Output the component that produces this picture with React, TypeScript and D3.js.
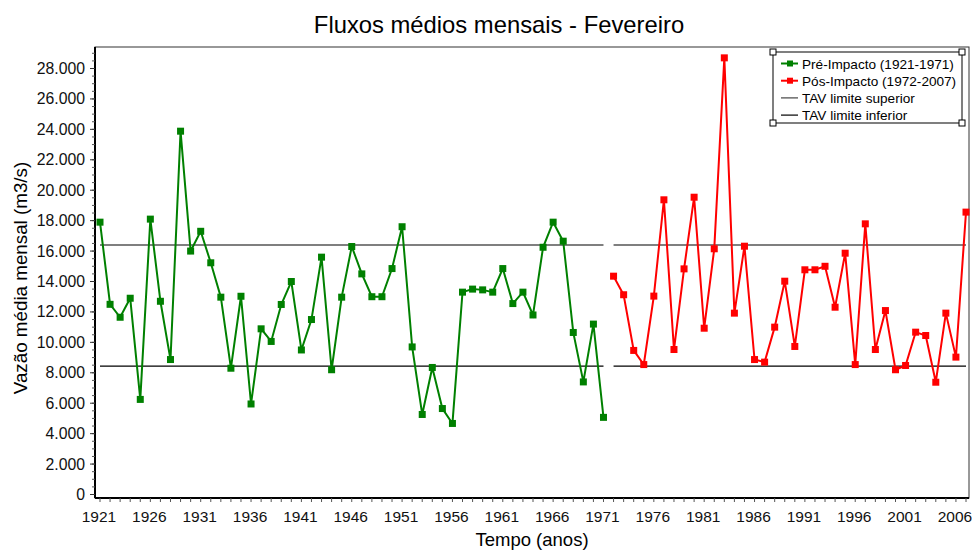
import React from "react";
import * as d3 from "d3";

const preYears = d3.range(1921, 1972);
const preValues = [17900, 12500, 11650, 12900, 6250, 18100, 12700, 8870, 23880, 16000, 17300, 15230, 12970, 8300, 13030, 5950, 10890, 10060, 12490, 14000, 9500, 11500, 15600, 8200, 12970, 16300, 14500, 13000, 13000, 14850, 17600, 9700, 5260, 8350, 5650, 4670, 13300, 13500, 13450, 13300, 14850, 12550, 13300, 11800, 16250, 17900, 16650, 10650, 7400, 11200, 5070];
const postYears = d3.range(1972, 2008);
const postValues = [14350, 13130, 9470, 8540, 13040, 19370, 9530, 14830, 19540, 10930, 16150, 28700, 11920, 16320, 8870, 8700, 11000, 14020, 9730, 14770, 14770, 15000, 12310, 15860, 8540, 17790, 9530, 12090, 8200, 8480, 10670, 10450, 7380, 11920, 9030, 18560];
const tavUpper = 16400;
const tavLower = 8440;
const yTicks = d3.range(0, 28001, 2000);
const yMinorTicks = d3.range(0, 29001, 500);
const xLabelYears = d3.range(1921, 2007, 5);
const xMinorYears = d3.range(1921, 2008);
const legendItems = [
  { label: "Pré-Impacto (1921-1971)", color: "#008000", marker: true },
  { label: "Pós-Impacto (1972-2007)", color: "#ff0000", marker: true },
  { label: "TAV limite superior", color: "#444444", marker: false },
  { label: "TAV limite inferior", color: "#000000", marker: false },
];

const W = 972, H = 550;
const frame = { left: 95, right: 969, top: 47, bottom: 498 };
const font = "'Liberation Sans', Arial, sans-serif";

export default function App() {
  const x = d3.scaleLinear().domain([1921, 2007]).range([100, 966]);
  const y = d3.scaleLinear().domain([0, 28000]).range([494.5, 68.5]);
  const line = d3.line<[number, number]>().x(d => x(d[0])).y(d => y(d[1]));
  const pre: [number, number][] = preYears.map((yr, i) => [yr, preValues[i]]);
  const post: [number, number][] = postYears.map((yr, i) => [yr, postValues[i]]);
  const fmt = (v: number) => (v === 0 ? "0" : d3.format(",")(v).replace(/,/g, "."));
  const ms = 7;

  const legend = { x1: 773, x2: 962, y1: 52, y2: 123 };
  const handles = [
    [legend.x1, legend.y1], [legend.x2, legend.y1], [legend.x1, legend.y2], [legend.x2, legend.y2],
  ];

  return (
    <svg width={W} height={H} style={{ position: "absolute", left: 0, top: 0, background: "#fff" }} fontFamily={font}>
      <rect x={0} y={0} width={W} height={H} fill="#fff" />
      <text x={499} y={33} textAnchor="middle" fontSize={23.8} fill="#000">Fluxos médios mensais - Fevereiro</text>
      {/* frame */}
      <rect x={frame.left} y={frame.top} width={frame.right - frame.left} height={frame.bottom - frame.top} fill="#fff" stroke="#333" strokeWidth={1} />
      <line x1={frame.left} x2={frame.left} y1={frame.top} y2={frame.bottom} stroke="#000" strokeWidth={2} />
      <line x1={frame.left} x2={frame.right} y1={frame.bottom} y2={frame.bottom} stroke="#000" strokeWidth={2} />
      {/* y ticks */}
      {yMinorTicks.map(v => (
        <line key={"ym" + v} x1={frame.left - 3} x2={frame.left} y1={y(v)} y2={y(v)} stroke="#555" strokeWidth={1} />
      ))}
      {yTicks.map(v => (
        <g key={"y" + v}>
          <line x1={frame.left - 5} x2={frame.left} y1={y(v)} y2={y(v)} stroke="#333" strokeWidth={1} />
          <text x={85} y={y(v) + 5.5} textAnchor="end" fontSize={15.8} fill="#111">{fmt(v)}</text>
        </g>
      ))}
      {/* x ticks */}
      {xMinorYears.map(yr => (
        <line key={"xm" + yr} x1={x(yr)} x2={x(yr)} y1={frame.bottom} y2={frame.bottom + 4} stroke="#555" strokeWidth={1} />
      ))}
      {xLabelYears.map(yr => (
        <text key={"xl" + yr} x={x(yr) - 1} y={522} textAnchor="middle" fontSize={15.5} fill="#111">{yr}</text>
      ))}
      <text x={532} y={546} textAnchor="middle" fontSize={18.5} fill="#000">Tempo (anos)</text>
      <text transform={`translate(27,${278}) rotate(-90)`} textAnchor="middle" fontSize={18.8} fill="#000">Vazão média mensal (m3/s)</text>
      {/* TAV lines */}
      {[tavUpper, tavLower].map((v, i) => (
        <g key={"tav" + i}>
          <line x1={x(1921)} x2={x(1971)} y1={y(v)} y2={y(v)} stroke="#000" strokeWidth={1.1} />
          <line x1={x(1972)} x2={x(2007)} y1={y(v)} y2={y(v)} stroke="#000" strokeWidth={1.1} />
        </g>
      ))}
      {/* series */}
      <path d={line(pre) || ""} fill="none" stroke="#008000" strokeWidth={2} />
      {pre.map((d, i) => (
        <rect key={"pm" + i} x={x(d[0]) - ms / 2} y={y(d[1]) - ms / 2} width={ms} height={ms} fill="#008000" />
      ))}
      <path d={line(post) || ""} fill="none" stroke="#ff0000" strokeWidth={2} />
      {post.map((d, i) => (
        <rect key={"qm" + i} x={x(d[0]) - ms / 2} y={y(d[1]) - ms / 2} width={ms} height={ms} fill="#ff0000" />
      ))}
      {/* legend */}
      <rect x={legend.x1} y={legend.y1} width={legend.x2 - legend.x1} height={legend.y2 - legend.y1} fill="#fff" stroke="#555" strokeWidth={1.5} />
      {legendItems.map((it, i) => {
        const cy = 63.5 + i * 17.2;
        return (
          <g key={"lg" + i}>
            <line x1={781} x2={798} y1={cy} y2={cy} stroke={it.color} strokeWidth={it.marker ? 2 : 1.2} />
            {it.marker && <rect x={790 - 3} y={cy - 3} width={6} height={6} fill={it.color} />}
            <text x={802} y={cy + 5} fontSize={13.6} fill="#000">{it.label}</text>
          </g>
        );
      })}
      {handles.map((h, i) => (
        <rect key={"h" + i} x={h[0] - 3} y={h[1] - 3} width={6} height={6} fill="#fff" stroke="#000" strokeWidth={1} />
      ))}
    </svg>
  );
}
